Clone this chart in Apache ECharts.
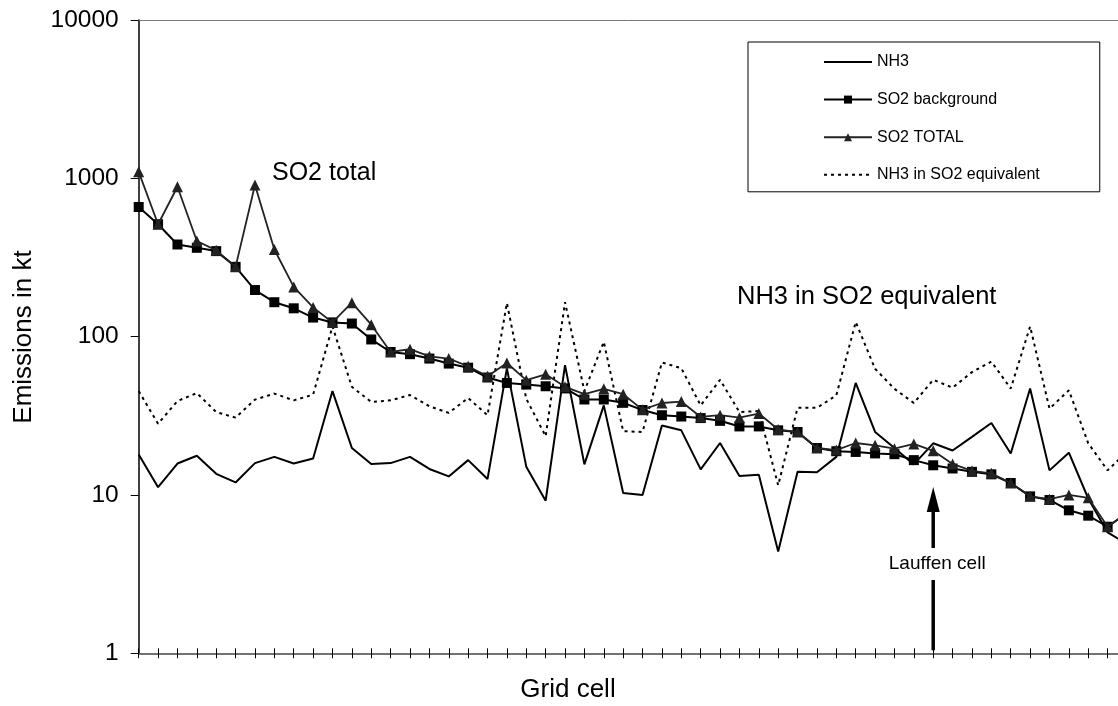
<!DOCTYPE html>
<html><head><meta charset="utf-8">
<script src="https://cdn.jsdelivr.net/npm/echarts@6/dist/echarts.min.js"></script>
<style>html,body{margin:0;padding:0;background:#fff}#c{width:1118px;height:706px}</style>
</head><body><div id="c"></div>
<script>
const cells = ['1','2','3','4','5','6','7','8','9','10','11','12','13','14','15','16','17','18','19','20','21','22','23','24','25','26','27','28','29','30','31','32','33','34','35','36','37','38','39','40','41','42','43','44','45','46','47','48','49','50','51','52'];
const nh3 = [18,11.2,15.8,17.7,13.6,12,15.9,17.4,15.8,17,45.3,19.8,15.7,15.9,17.4,14.6,13.1,16.6,12.6,63,15.1,9.2,66,15.6,36.8,10.3,10,27.5,25.6,14.5,21.3,13.2,13.4,4.4,14,13.9,17.4,51,25,19.8,15.6,21.2,19.1,23.3,28.5,18.3,47,14.3,18.5,9.5,5.8,4.9];
const so2Background = [659,513,382,364,347,276,197,165,151,132,123,121,96,80,77.5,72.7,67.6,63.7,55.2,51,49.8,48.6,47.1,40.1,40.1,38.2,34.4,31.9,31.3,30.6,29.4,27.1,27.1,25.6,25,19.8,18.9,18.7,18.3,18.1,16.6,15.4,14.7,14,13.5,11.9,9.8,9.3,8.0,7.4,6.3,7.7];
const so2Total = [1099,513,885,402,351,276,907,355,206,153,123,164,119,80,83.3,75.1,72.7,65,56.2,68.2,53.1,57.8,48.2,43.3,46.8,43.3,34.6,38.1,38.9,31.1,31.9,30.8,32.7,25.9,25,19.8,19.2,21.3,20.6,19.6,21,19,15.7,14.2,13.7,11.9,9.8,9.4,10,9.6,6.3,7.7];
const nh3So2Equivalent = [45.3,28.2,39.2,44,33.4,30.8,40,43.7,39.6,43,116,48.2,38.7,39.6,42.8,36.3,33,41,31.9,163,40.5,23.5,165,45.3,92.8,25.3,25,68.7,63.2,36.8,53.4,33.4,33.9,11.5,35.5,35.5,42.6,123.7,62.7,46.8,38.1,53.4,47.6,59.7,69.6,47,116,35.1,45.8,21.2,14.3,18.8];
const lauffenIndex = 41;

const FONT = '"Liberation Sans", Arial, sans-serif';
const chart = echarts.init(document.getElementById('c'), null, {renderer:'canvas'});
const catAxisBase = {type:'category', data: cells, boundaryGap:false, axisLabel:{show:false}, splitLine:{show:false}};
chart.setOption({
  animation:false,
  backgroundColor:'#fff',
  grid:{left:138.7, top:20, bottom:52.7, width:988.3, containLabel:false, outerBoundsMode:'none'},
  xAxis:[
    Object.assign({}, catAxisBase, {position:'bottom', axisLine:{show:true, lineStyle:{color:'#444', width:1.6}}, axisTick:{show:true, interval:0, length:5, inside:false, lineStyle:{color:'#000', width:1}}}),
    Object.assign({}, catAxisBase, {position:'bottom', axisLine:{show:false}, axisTick:{show:true, interval:0, length:5, inside:true, lineStyle:{color:'#000', width:1}}}),
    Object.assign({}, catAxisBase, {position:'top', axisLine:{show:true, lineStyle:{color:'#777', width:1}}, axisTick:{show:false}})
  ],
  yAxis:{type:'log', logBase:10, min:1, max:10000,
    axisLine:{show:true, lineStyle:{color:'#000', width:1.5}},
    axisTick:{show:true, length:8, lineStyle:{color:'#000', width:1}},
    axisLabel:{fontFamily:FONT, fontSize:24.5, color:'#000', margin:20, formatter: v => String(Math.round(v))},
    splitLine:{show:false}},
  legend:{orient:'vertical', left:748, top:42, padding:[12,60,9,75], itemGap:21.6, itemWidth:48, itemHeight:10,
    borderColor:'#000', borderWidth:1, backgroundColor:'#fff',
    textStyle:{fontFamily:FONT, fontSize:16, color:'#000'},
    data:['NH3','SO2 background','SO2 TOTAL','NH3 in SO2 equivalent']},
  series:[
    {name:'NH3', type:'line', data:nh3, symbol:'none', lineStyle:{color:'#000', width:2}, itemStyle:{color:'rgba(0,0,0,0)'}, z:2},
    {name:'SO2 background', type:'line', data:so2Background, symbol:'rect', symbolSize:10, lineStyle:{color:'#000', width:2}, itemStyle:{color:'#000'}, z:3},
    {name:'SO2 TOTAL', type:'line', data:so2Total, symbol:'triangle', symbolSize:11, lineStyle:{color:'#222', width:1.8}, itemStyle:{color:'#222'}, z:4},
    {name:'NH3 in SO2 equivalent', type:'line', data:nh3So2Equivalent, symbol:'none', lineStyle:{color:'#000', width:2, type:[3,4]}, itemStyle:{color:'rgba(0,0,0,0)'}, z:1}
  ]
});

const xL = chart.convertToPixel({xAxisIndex:0}, cells[lauffenIndex]);
const yBase = chart.convertToPixel({yAxisIndex:0}, 1);
chart.setOption({graphic:[
  {type:'text', x:272, y:173, style:{text:'SO2 total', font:'25px '+FONT, fill:'#000', align:'left', verticalAlign:'middle', textAlign:'left', textVerticalAlign:'middle'}},
  {type:'text', x:737, y:297, style:{text:'NH3 in SO2 equivalent', font:'25.5px '+FONT, fill:'#000', align:'left', verticalAlign:'middle', textAlign:'left', textVerticalAlign:'middle'}},
  {type:'text', x:xL+4, y:564, style:{text:'Lauffen cell', font:'19px '+FONT, fill:'#000', align:'center', verticalAlign:'middle', textAlign:'center', textVerticalAlign:'middle'}},
  {type:'line', shape:{x1:xL, y1:yBase-3, x2:xL, y2:580}, style:{stroke:'#000', lineWidth:3.5}},
  {type:'line', shape:{x1:xL, y1:548, x2:xL, y2:510}, style:{stroke:'#000', lineWidth:3.5}},
  {type:'polygon', shape:{points:[[xL-6.5,512],[xL+6.5,512],[xL,487]]}, style:{fill:'#000'}},
  {type:'text', x:568, y:690, style:{text:'Grid cell', font:'26px '+FONT, fill:'#000', align:'center', verticalAlign:'middle', textAlign:'center', textVerticalAlign:'middle'}},
  {type:'text', x:24, y:337, rotation:Math.PI/2, style:{text:'Emissions in kt', font:'26px '+FONT, fill:'#000', align:'center', verticalAlign:'middle', textAlign:'center', textVerticalAlign:'middle'}}
]});
</script></body></html>
